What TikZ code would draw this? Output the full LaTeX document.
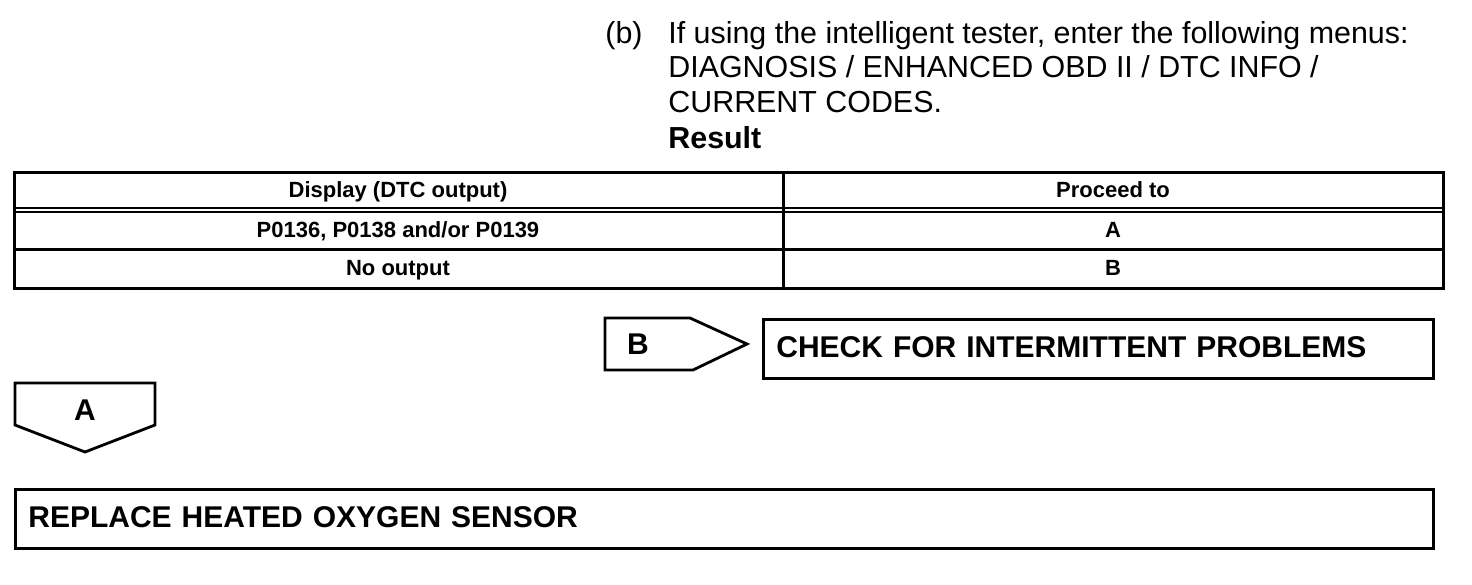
\documentclass[tikz,border=0pt]{standalone}
\usepackage{fontspec}
\setmainfont{Liberation Sans}
\usepackage{tikz}
\usetikzlibrary{positioning}
\tikzset{%
  block/.style    = {draw, line width = 1.4pt, rectangle, anchor = north west,
    minimum height = 29.5pt, inner xsep = 6.5pt, align = left,
    text height = 10.7pt, text depth = 2pt,
    font = \fontsize{15}{18}\selectfont\bfseries}, % Step box
  tag/.style      = {draw, line width = 1.4pt, line join = miter}, % Result arrow
  taglabel/.style = {text height = 10.7pt, text depth = 0pt,
    font = \fontsize{15}{18}\selectfont\bfseries},
  cell/.style     = {text height = 7.9pt, text depth = 0pt,
    font = \fontsize{11}{13}\selectfont\bfseries}, % Table text
  para/.style     = {anchor = base west, inner sep = 0pt,
    font = \fontsize{15.2}{18}\selectfont} % Instruction line
}

\begin{document}
\begin{tikzpicture}[x=0.5pt, y=-0.5pt]
        \useasboundingbox (0,0) rectangle (1472,584);
        % instruction
        \node [para] (itemb) at (605,43) {(b)};
        \node [para] (line1) at (668,43) {If using the intelligent tester, enter the following menus:};
        \node [para] (line2) at (668,77) {DIAGNOSIS / ENHANCED OBD II / DTC INFO /};
        \node [para] (line3) at (668,112) {CURRENT CODES.};
        \node [para] (line4) at (668,148) {\bfseries Result};
        % result table
        \draw[line width=1.5pt] (14,172) rectangle (1443,288);
        \draw[line width=1.5pt] (783,172) -- (783,288);
        \draw[line width=0.6pt] (14,208) -- (1443,208);
        \draw[line width=1.3pt] (14,212) -- (1443,212);
        \draw[line width=1.5pt] (14,249) -- (1443,249);
        \node [cell] (head1) at (398,190) {Display (DTC output)};
        \node [cell] (head2) at (1113,190) {Proceed to};
        \node [cell] (dtc)   at (398,230) {P0136, P0138 and/or P0139};
        \node [cell] (goA)   at (1113,230) {A};
        \node [cell] (none)  at (398,268) {No output};
        \node [cell] (goB)   at (1113,268) {B};
        % B branch
        \draw[tag] (605,318) -- (690,318) -- (747,344) -- (693,370) -- (605,370) -- cycle;
        \node [taglabel] (tagB) at (638,344) {B};
        \node [block, minimum width=335pt, text width=322pt] (check) at (762,318)
            {CHECK FOR INTERMITTENT PROBLEMS};
        % A branch
        \draw[tag] (15,383) -- (155,383) -- (155,425) -- (85,452) -- (15,425) -- cycle;
        \node [taglabel] (tagA) at (85,410) {A};
        \node [block, minimum width=709pt, text width=696pt] (replace) at (14,488)
            {REPLACE HEATED OXYGEN SENSOR};
\end{tikzpicture}
\end{document}
